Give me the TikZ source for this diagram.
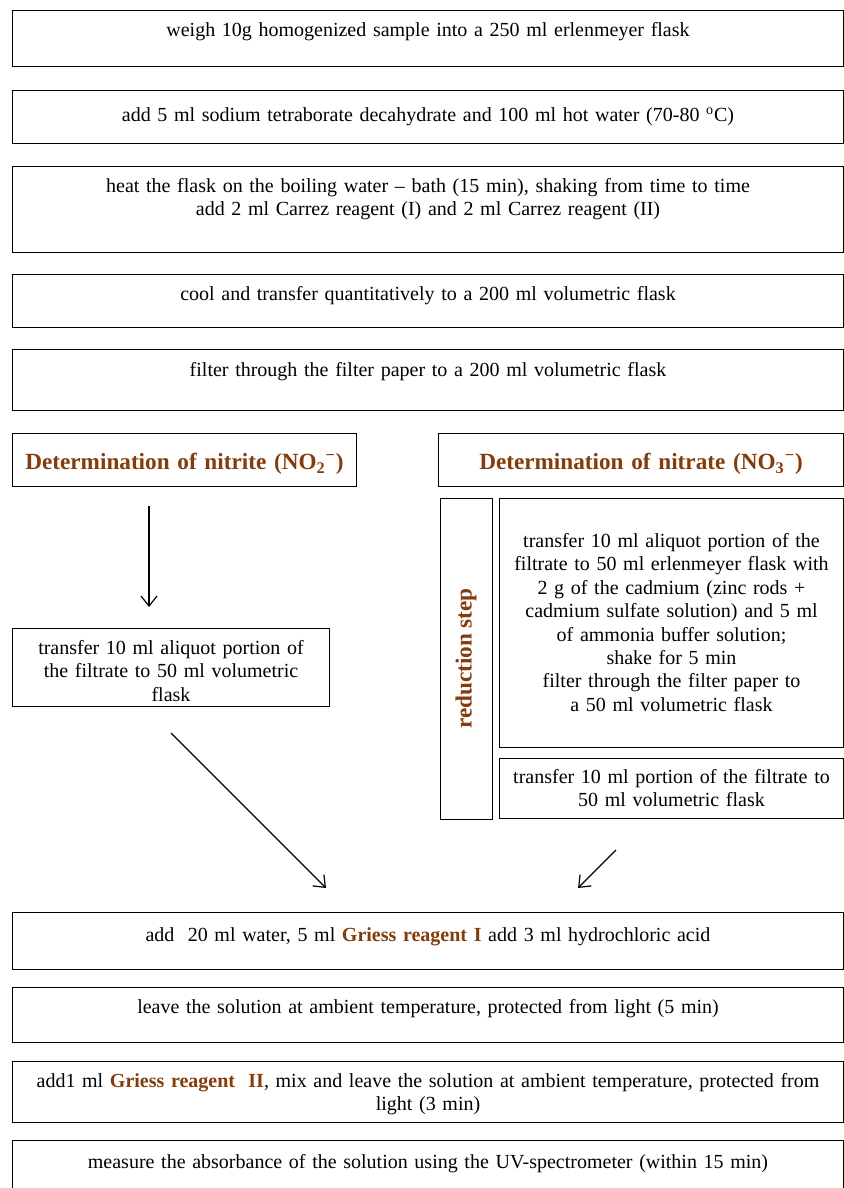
\documentclass[tikz,border=0pt]{standalone}
\usepackage{fontspec}
\setmainfont{Liberation Serif}
\usepackage{tikz}
\usetikzlibrary{arrows.meta}
\definecolor{dark_brown}{HTML}{843C0C}

\begin{document}
\begin{tikzpicture}[x=0.5pt,y=-0.5pt,>={Straight Barb[length=5pt,width=8pt]},
              box/.style={draw,line width=0.5pt,inner xsep=0pt,inner ysep=0pt,anchor=north west,align=center,font=\fontsize{10}{11.7}\selectfont},
              head/.style={box,font=\fontsize{11.6}{14}\selectfont\bfseries,text=dark_brown}]
              \useasboundingbox (0,0) rectangle (844,1188);
              \node[box,text width=415.5pt,text height=13pt,text depth=15pt] (weigh) at (12,10) {weigh 10g homogenized sample into a 250 ml erlenmeyer flask};
              \node[box,text width=415.5pt,text height=15.5pt,text depth=11pt] (borate) at (12,90) {add 5 ml sodium tetraborate decahydrate and 100 ml hot water (70-80 \textsuperscript{o}C)};
              \node[box,text width=415.5pt,text height=13pt,text depth=30pt] (heat) at (12,166) {heat the flask on the boiling water -- bath (15 min), shaking from time to time\\add 2 ml Carrez reagent (I) and 2 ml Carrez reagent (II)};
              \node[box,text width=415.5pt,text height=13pt,text depth=13.5pt] (cool) at (12,274) {cool and transfer quantitatively to a 200 ml volumetric flask};
              \node[box,text width=415.5pt,text height=13.5pt,text depth=17pt] (filter) at (12,349) {filter through the filter paper to a 200 ml volumetric flask};
              \node[head,text width=172pt,text height=18pt,text depth=8.5pt] (nitrite) at (12,433) {Determination of nitrite (NO\textsubscript{2}\textsuperscript{−})};
              \node[head,text width=202.5pt,text height=18pt,text depth=8.5pt] (nitrate) at (438,433) {Determination of nitrate (NO\textsubscript{3}\textsuperscript{−})};
              \node[draw,line width=0.5pt,rotate=90,minimum width=160.5pt,minimum height=26pt,inner sep=0pt,font=\fontsize{11.6}{14}\selectfont\bfseries,text=dark_brown] (reduction) at (466,658.5) {reduction step};
              \node[box,text width=172pt,text height=24.5pt,text depth=100pt] (cadmium) at (499,498) {transfer 10 ml aliquot portion of the\\filtrate to 50 ml erlenmeyer flask with\\2 g of the cadmium (zinc rods +\\cadmium sulfate solution) and 5 ml\\of ammonia buffer solution;\\shake for 5 min\\filter through the filter paper to\\a 50 ml volumetric flask};
              \node[box,text width=172pt,text height=12.5pt,text depth=17.5pt] (portion) at (499,758) {transfer 10 ml portion of the filtrate to\\50 ml volumetric flask};
              \node[box,text width=158.5pt,text height=13pt,text depth=26pt] (aliquot) at (12,628) {transfer 10 ml aliquot portion of\\the filtrate to 50 ml volumetric\\flask};
              \node[box,text width=415.5pt,text height=14.5pt,text depth=14pt] (griessA) at (12,912) {add~ 20 ml water, 5 ml {\bfseries\color{dark_brown}Griess reagent I} add 3 ml hydrochloric acid};
              \node[box,text width=415.5pt,text height=13pt,text depth=14.5pt] (leave) at (12,987) {leave the solution at ambient temperature, protected from light (5 min)};
              \node[box,text width=415.5pt,text height=13pt,text depth=17.5pt] (griessB) at (12,1061) {add1 ml {\bfseries\color{dark_brown}Griess reagent~ II}, mix and leave the solution at ambient temperature, protected from\\light (3 min)};
              \node[box,text width=415.5pt,text height=14pt,text depth=12pt] (measure) at (12,1140) {measure the absorbance of the solution using the UV-spectrometer (within 15 min)};
              \coordinate (nitS) at (149,506);
              \coordinate (aliN) at (149,607);
              \coordinate (aliS) at (171,733);
              \coordinate (griL) at (326,888);
              \coordinate (porS) at (616,850);
              \coordinate (griR) at (578,888);
              \draw[->,line width=0.6pt] (nitS) -- (aliN);
              \draw[->,line width=0.6pt] (aliS) -- (griL);
              \draw[->,line width=0.6pt] (porS) -- (griR);
          \end{tikzpicture}
\end{document}
